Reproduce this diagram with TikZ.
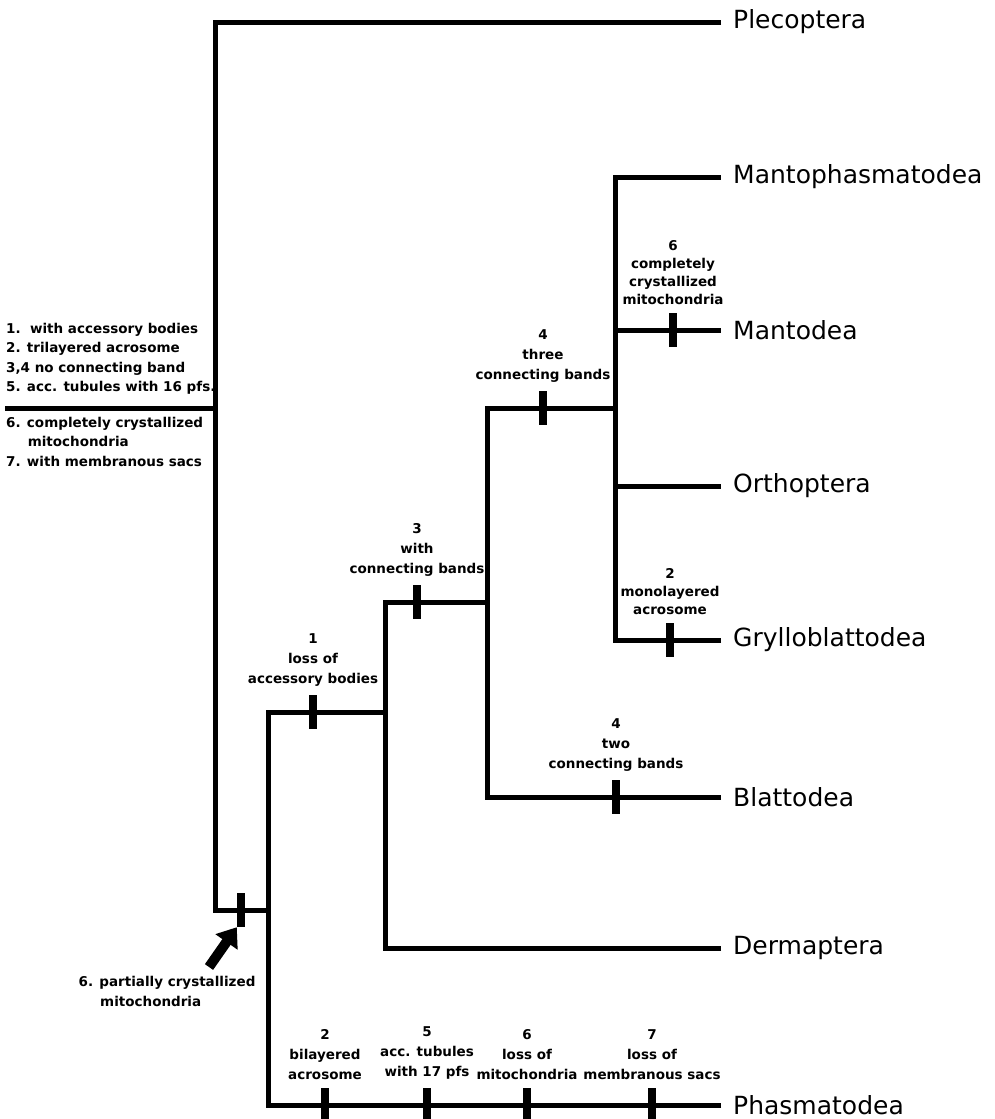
\documentclass[tikz,border=0pt]{standalone}
\usepackage{fontspec}
\setmainfont{DejaVu Sans}
\usepackage{tikz}
\usetikzlibrary{positioning,arrows.meta}

\newcommand\labfont{\fontsize{13.5}{20}\selectfont\bfseries}
\newcommand\taxfont{\fontsize{25}{28}\selectfont}

\begin{document}
\begin{tikzpicture}[x=1pt,y=-1pt,
    branch/.style={line width=5pt},
    tick/.style={fill=black,inner sep=0pt,minimum width=8pt,minimum height=34pt},
    note/.style={align=center,font=\labfont,inner sep=1pt},
    taxon/.style={anchor=west,font=\taxfont,inner xsep=12pt,inner ysep=0pt}]
       \path[fill=white,use as bounding box] (0,0) rectangle (995,1119);

       % junctions
       \coordinate(R) at (5,408);
       \coordinate(J0) at (215,408);
       \coordinate(J0bot) at (215,910);
       \coordinate(J1) at (268,910);
       \coordinate(J1top) at (268,712);
       \coordinate(J2) at (385,712);
       \coordinate(J2top) at (385,602);
       \coordinate(J3) at (487,602);
       \coordinate(J3top) at (487,408);
       \coordinate(J4) at (615,408);
       \coordinate(J4top) at (615,177);
       \coordinate(J4man) at (615,330);
       \coordinate(J4ort) at (615,486);

       % taxa
       \node(Ple)[taxon] at (721,22) {Plecoptera};
       \node(Mph)[taxon] at (721,177) {Mantophasmatodea};
       \node(Man)[taxon] at (721,330) {Mantodea};
       \node(Ort)[taxon] at (721,486) {Orthoptera};
       \node(Gry)[taxon] at (721,640) {Grylloblattodea};
       \node(Bla)[taxon] at (721,797) {Blattodea};
       \node(Der)[taxon] at (721,948) {Dermaptera};
       \node(Pha)[taxon] at (721,1105) {Phasmatodea};

       \draw[branch] (R) -- (J0);
       \draw[branch] (Ple.west) -| (J0bot) -- (J1);
       \draw[branch] (Pha.west) -| (J1top) -- (J2);
       \draw[branch] (Der.west) -| (J2top) -- (J3);
       \draw[branch] (Bla.west) -| (J3top) -- (J4);
       \draw[branch] (Gry.west) -| (J4top) -- (Mph.west);
       \draw[branch] (J4man) -- (Man.west);
       \draw[branch] (J4ort) -- (Ort.west);

       % character states
       \node(t0)[tick] at (241,910) {};
       \node(t1)[tick] at (313,712) {};
       \node(t2)[tick] at (417,602) {};
       \node(t3)[tick] at (543,408) {};
       \node(t4)[tick] at (673,330) {};
       \node(t5)[tick] at (670,640) {};
       \node(t6)[tick] at (616,797) {};
       \node(t7)[tick] at (325,1105) {};
       \node(t8)[tick] at (427,1105) {};
       \node(t9)[tick] at (527,1105) {};
       \node(t10)[tick] at (652,1105) {};

       \node(N1)[note, above=7pt of t1] {1\\loss of\\accessory bodies};
       \node(N2)[note, above=7pt of t2] {3\\with\\connecting bands};
       \node(N3)[note, above=7pt of t3] {4\\three\\connecting bands};
       \node(N4)[note, above=7pt of t4, font=\fontsize{13.5}{18}\selectfont\bfseries] {6\\completely\\crystallized\\mitochondria};
       \node(N5)[note, above=7pt of t5, font=\fontsize{13.5}{18}\selectfont\bfseries] {2\\monolayered\\acrosome};
       \node(N6)[note, above=7pt of t6] {4\\two\\connecting bands};
       \node(N7)[note, above=7pt of t7] {2\\bilayered\\acrosome};
       \node(N8)[note, above=7pt of t8] {5\\acc. tubules\\with 17 pfs};
       \node(N9)[note, above=7pt of t9] {6\\loss of\\mitochondria};
       \node(N10)[note, above=7pt of t10] {7\\loss of\\membranous sacs};

       % ancestral states
       \node(anc1)[note, align=left, anchor=south west, font=\fontsize{13.5}{19.5}\selectfont\bfseries] at (5,396)
         {1.\ \ with accessory bodies\\2. trilayered acrosome\\3,4 no connecting band\\5. acc. tubules with 16 pfs.};
       \node(anc2)[note, align=left, anchor=north west, font=\fontsize{13.5}{19.5}\selectfont\bfseries] at (5,416)
         {6. completely crystallized\\\hspace*{1.6em}mitochondria\\7. with membranous sacs};

       \node(pc)[note, align=left, anchor=north] at (167,975)
         {6. partially crystallized\\\hspace*{1.6em}mitochondria};
       \coordinate(arrtail) at (209,967);
       \draw[line width=10pt,-{Triangle[length=18pt,width=26pt]}] (arrtail) -- (t0.south west);
     \end{tikzpicture}
\end{document}
